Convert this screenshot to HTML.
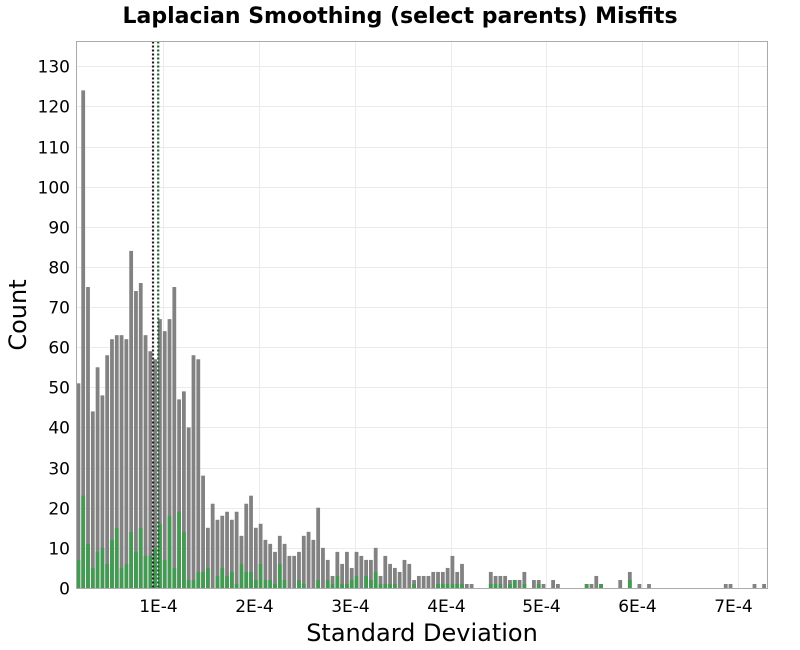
<!DOCTYPE html>
<html><head><meta charset="utf-8"><style>
html,body{margin:0;padding:0;background:#fff;}
svg{display:block;font-family:"DejaVu Sans","Liberation Sans",sans-serif;}
</style></head><body>
<svg id="chart" width="800" height="650" xmlns="http://www.w3.org/2000/svg">
<text x="400" y="23" text-anchor="middle" font-size="22" font-weight="bold">Laplacian Smoothing (select parents) Misfits</text>
<g id="grid"></g>
<g id="bars"></g>
<g id="vlines"></g>
<rect x="76.5" y="41.5" width="691" height="547" fill="none" stroke="#aaa" stroke-width="1"/>
<g id="yticks"></g>
<g id="xticks"></g>
<text transform="translate(26,315) rotate(-90)" text-anchor="middle" font-size="24">Count</text>
<text x="422" y="641" text-anchor="middle" font-size="24">Standard Deviation</text>
</svg>
<script>
const binStart = 0.95e-5;
const binWidth = 5e-6;
const totalCounts = [51,124,75,44,55,48,58,62,63,63,62,84,74,76,63,59,57,67,64,67,75,47,49,40,58,57,28,
15,21,17,18,19,17,19,13,21,23,15,16,12,11,9,13,11,8,8,9,13,14,12,20,10,7,3,9,6,9,5,9,8,7,7,10,3,8,6,5,4,
7,6,2,3,3,3,4,4,4,5,8,4,6,1,1,0,0,0,4,3,3,3,2,2,2,4,0,2,2,1,0,2,1,
0,0,0,0,0,1,1,3,1,0,0,0,2,0,4,0,1,0,1,0,0,0,0,0,0,0,0,0,0,0,0,0,0,0,1,1,0,0,0,0,1,0,1,0];
const selectedCounts = [7,23,11,5,9,10,6,12,15,5,6,14,9,15,8,8,10,16,7,18,5,19,14,2,2,4,
4,5,0,3,5,3,4,1,6,4,4,2,6,2,2,1,6,2,0,0,2,1,0,0,2,0,2,1,3,1,1,2,3,0,3,2,4,1,1,1,1,0,
0,0,1,0,0,0,0,1,1,1,1,1,1,0,0,0,0,0,1,1,1,0,1,2,0,1,0,0,1,0,0,0,0,
0,0,0,0,0,1,0,0,1,0,0,0,0,0,2,0,0,0,0,0,0,0,0,0,0,0,0,0,0,0,0,0,0,0,0,0,0,0,0,0,0,0,0,0];
const yTicks = [0,10,20,30,40,50,60,70,80,90,100,110,120,130];
const xTicks = [1e-4,2e-4,3e-4,4e-4,5e-4,6e-4,7e-4];
const xTickLabels = ["1E-4","2E-4","3E-4","4E-4","5E-4","6E-4","7E-4"];
const refLines = [0.898e-4, 0.952e-4];

const NS="http://www.w3.org/2000/svg";
const L=76.5,R=767.5,T=41.5,B=588;
const x0=66.9, xs=95.9e4;
const X=v=>x0+v*xs;
const Y=v=>B-v*(588-66.3)/130;
function mk(tag,attrs,parent){const e=document.createElementNS(NS,tag);for(const k in attrs)e.setAttribute(k,attrs[k]);parent.appendChild(e);return e;}
const grid=document.getElementById('grid'),bars=document.getElementById('bars'),vl=document.getElementById('vlines'),yt=document.getElementById('yticks'),xt=document.getElementById('xticks');
yTicks.forEach(t=>{
  const y=Math.round(Y(t))+0.5;
  if(t>0){const g=mk('line',{x1:L,x2:R,y1:y,y2:y,stroke:'#ebebeb'},grid);
  
  }
  const lb=mk('text',{x:70,y:y+6,'text-anchor':'end','font-size':17},yt);
  lb.textContent=t;
  
  
});
xTicks.forEach((t,i)=>{
  const x=Math.round(X(t))+0.5;
  const g=mk('line',{x1:x,x2:x,y1:T,y2:B,stroke:'#ebebeb'},grid);
  
  
  const lb=mk('text',{x:x-5,y:612,'text-anchor':'middle','font-size':17},xt);
  lb.textContent=xTickLabels[i];
  
  
});
const clip=mk('clipPath',{id:'pc'},document.getElementById('chart'));
mk('rect',{x:L,y:T,width:R-L,height:B-T},clip);
bars.setAttribute('clip-path','url(#pc)');
totalCounts.forEach((c,i)=>{
  if(c<=0)return;
  const xa=X(binStart+i*binWidth),xb=X(binStart+(i+1)*binWidth);
  const r=mk('rect',{x:xa+0.5,y:Y(c),width:xb-xa-1,height:B-Y(c),fill:'#828282'},bars);
  
  
});
selectedCounts.forEach((c,i)=>{
  if(c<=0)return;
  const xa=X(binStart+i*binWidth),xb=X(binStart+(i+1)*binWidth);
  const r=mk('rect',{x:xa+0.5,y:Y(c),width:xb-xa-1,height:B-Y(c),fill:'#439a52'},bars);
  
  
});
const lineColors=['#222','#1f5a2c'];
refLines.forEach((v,i)=>{
  const x=X(v);
  const l=mk('line',{x1:x,x2:x,y1:T,y2:B,stroke:lineColors[i],'stroke-width':2.2,'stroke-dasharray':'2,2'},vl);
  
  
});
</script>
</body></html>
